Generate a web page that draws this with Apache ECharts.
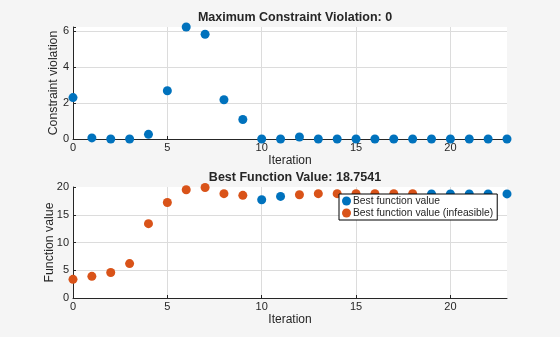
<!DOCTYPE html>
<html><head><meta charset="utf-8">
<script src="https://cdn.jsdelivr.net/npm/echarts@6/dist/echarts.min.js"></script>
<style>html,body{margin:0;padding:0;background:#f5f5f5}#c{width:560px;height:337px}</style>
</head><body><div id="c"></div>
<script>
const iterations = [0,1,2,3,4,5,6,7,8,9,10,11,12,13,14,15,16,17,18,19,20,21,22,23];
const constraintViolation = [2.3,0.06,0,0,0.26,2.68,6.22,5.82,2.18,1.08,0,0,0.11,0,0,0,0,0,0,0,0,0,0,0];
const functionValue = [3.36,3.9,4.6,6.2,13.4,17.2,19.5,19.9,18.8,18.5,17.7,18.3,18.6,18.8,18.8,18.8,18.8,18.8,18.8,18.75,18.75,18.75,18.75,18.7541];
const feasible = [0,0,0,0,0,0,0,0,0,0,1,1,0,0,0,0,0,0,0,1,1,1,1,1];
const xTicks = [0,5,10,15,20];
const topTitle = 'Maximum Constraint Violation: 0';
const bottomTitle = 'Best Function Value: 18.7541';
const legendNames = ['Best function value','Best function value (infeasible)'];

const BLUE = '#0072BD', ORANGE = '#D95319', TXT = '#262626';
const FONT = 'Liberation Sans, Arial, sans-serif';
const feasData = iterations.map((x,i)=> feasible[i] ? [x, functionValue[i]] : null).filter(d=>d);
const infData = iterations.map((x,i)=> !feasible[i] ? [x, functionValue[i]] : null).filter(d=>d);

function xAxis(idx){
  return {gridIndex: idx, type:'value', min:0, max:23, interval:5,
    name:'Iteration', nameLocation:'middle', nameGap:16, nameMoveOverlap:false,
    nameTextStyle:{color:TXT, fontSize:12, fontFamily:FONT},
    axisLine:{show:true, onZero:false, lineStyle:{color:TXT, width:1}},
    axisTick:{show:true, inside:true, length:3, lineStyle:{color:TXT}},
    axisLabel:{color:TXT, fontSize:11, fontFamily:FONT, margin:3, showMaxLabel:false,
      formatter: v => xTicks.includes(v) ? String(v) : ''},
    splitLine:{show:true, showMinLine:false, showMaxLine:false, lineStyle:{color:'#dcdcdc'}}};
}
function yAxis(idx, max, interval, name, gap){
  return {gridIndex: idx, type:'value', min:0, max:max, interval:interval,
    name:name, nameLocation:'middle', nameGap:gap, nameRotate:90, nameMoveOverlap:false,
    nameTextStyle:{color:TXT, fontSize:12.3, fontFamily:FONT},
    axisLine:{show:true, onZero:false, lineStyle:{color:TXT, width:1}},
    axisTick:{show:true, inside:true, length:3, lineStyle:{color:TXT}},
    axisLabel:{color:TXT, fontSize:11, fontFamily:FONT, margin:4,
      formatter: v => (v % interval === 0) ? String(v) : ''},
    splitLine:{show:true, showMinLine:false, showMaxLine:false, lineStyle:{color:'#dcdcdc'}}};
}
const chart = echarts.init(document.getElementById('c'), null, {renderer:'canvas'});
chart.setOption({
  backgroundColor:'#f5f5f5',
  animation:false,
  title:[
    {text:topTitle, left:290, top:6, textAlign:'center', textStyle:{fontSize:12.5, fontWeight:'bold', color:TXT, fontFamily:FONT}},
    {text:bottomTitle, left:290, top:166, textAlign:'center', textStyle:{fontSize:12.5, fontWeight:'bold', color:TXT, fontFamily:FONT}}
  ],
  grid:[
    {left:73, right:53, top:27, height:112, backgroundColor:'#fff', show:true, borderWidth:0},
    {left:73, right:53, top:187, height:111, backgroundColor:'#fff', show:true, borderWidth:0}
  ],
  xAxis:[xAxis(0), xAxis(1)],
  yAxis:[yAxis(0, 6.22, 2, 'Constraint violation', 13), yAxis(1, 20, 5, 'Function value', 17)],
  legend:{left:339, top:194, orient:'vertical', data:legendNames,
    backgroundColor:'#fff', borderColor:'#000', borderWidth:1, borderRadius:0,
    padding:[2,4,2,3], itemGap:2, itemWidth:9, itemHeight:9, icon:'circle',
    textStyle:{fontSize:10.3, color:TXT, fontFamily:FONT, padding:[0,0,0,-3]}},
  series:[
    {type:'scatter', xAxisIndex:0, yAxisIndex:0, data:iterations.map((x,i)=>[x,constraintViolation[i]]),
      symbolSize:9, itemStyle:{color:BLUE, opacity:1}, clip:false},
    {name:legendNames[0], type:'scatter', xAxisIndex:1, yAxisIndex:1, data:feasData,
      symbolSize:9, itemStyle:{color:BLUE, opacity:1}, clip:false},
    {name:legendNames[1], type:'scatter', xAxisIndex:1, yAxisIndex:1, data:infData,
      symbolSize:9, itemStyle:{color:ORANGE, opacity:1}, clip:false}
  ]
});
</script></body></html>
